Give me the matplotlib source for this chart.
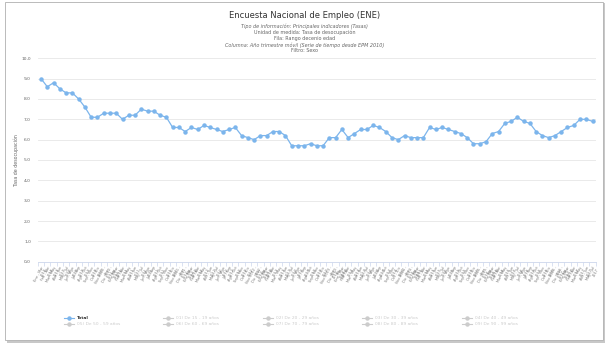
import matplotlib
matplotlib.use("Agg")
import matplotlib.pyplot as plt
from matplotlib.lines import Line2D
from matplotlib.patches import Rectangle

# DATA
title = "Encuesta Nacional de Empleo (ENE)"
subtitle = ["Tipo de información: Principales indicadores (Tasas)",
            "Unidad de medida: Tasa de desocupación",
            "Fila: Rango decenio edad",
            "Columna: Año trimestre móvil (Serie de tiempo desde EPM 2010)",
            "Filtro: Sexo"]
months = ["Ene", "Feb", "Mar", "Abr", "May", "Jun",
          "Jul", "Ago", "Sep", "Oct", "Nov", "Dic"]
first_year = 2010
total = [9.0, 8.6, 8.8, 8.5, 8.3, 8.3, 8.0, 7.6, 7.1, 7.1, 7.3, 7.3, 7.3, 7.0, 7.2, 7.2,
         7.5, 7.4, 7.4, 7.2, 7.1, 6.6, 6.6, 6.4, 6.6, 6.5, 6.7, 6.6, 6.5, 6.4, 6.5,
         6.6, 6.2, 6.1, 6.0, 6.2, 6.2, 6.4, 6.4, 6.2, 5.7, 5.7, 5.7, 5.8, 5.7, 5.7,
         6.1, 6.1, 6.5, 6.1, 6.3, 6.5, 6.5, 6.7, 6.6, 6.4, 6.1, 6.0, 6.2, 6.1, 6.1,
         6.1, 6.6, 6.5, 6.6, 6.5, 6.4, 6.3, 6.1, 5.8, 5.8, 5.9, 6.3, 6.4, 6.8, 6.9,
         7.1, 6.9, 6.8, 6.4, 6.2, 6.1, 6.2, 6.4, 6.6, 6.7, 7.0, 7.0, 6.9]
legend_items = ["Total",
                "01) De 15 - 19 años", "02) De 20 - 29 años", "03) De 30 - 39 años",
                "04) De 40 - 49 años", "05) De 50 - 59 años", "06) De 60 - 69 años",
                "07) De 70 - 79 años", "08) De 80 - 89 años", "09) De 90 - 99 años"]
yticks = [0, 1, 2, 3, 4, 5, 6, 7, 8, 9, 10]

# moving-quarter labels, e.g. "Ene - Mar 2010", "Nov 2010 - Ene 2011"
labels = []
for i in range(len(total)):
    m = i % 12
    y = first_year + i // 12
    if m + 2 < 12:
        labels.append(f"{months[m]} - {months[m + 2]}\n{y}")
    else:
        labels.append(f"{months[m]} {y} -\n{months[(m + 2) % 12]}\n{y + 1}")

W, H = 609, 352
fig = plt.figure(figsize=(W / 100, H / 100), dpi=100)

# card frame with a soft shadow
fig.patches.append(Rectangle((7 / W, 1 - 343 / H), 598 / W, 340 / H, transform=fig.transFigure,
                             facecolor="#c8c8c8", edgecolor="none", zorder=-3))
fig.patches.append(Rectangle((5 / W, 1 - 340 / H), 598 / W, 338 / H, transform=fig.transFigure,
                             facecolor="white", edgecolor="#b0b0b0", linewidth=0.6, zorder=-2))

ax = fig.add_axes([37.9 / W, 1 - 261.7 / H, 557.8 / W, 203.4 / H])
ax.set_facecolor("none")
x = list(range(len(total)))
ax.plot(x, total, color="#7cb5ec", linewidth=0.9, marker="o", markersize=2.2,
        markerfacecolor="#7cb5ec", markeredgecolor="#7cb5ec", zorder=3)

ax.set_xlim(-0.5, len(total) - 0.5)
ax.set_ylim(0, 10)
ax.set_yticks(yticks)
ax.set_yticklabels([f"{v:.1f}".replace(".", ",") for v in yticks], fontsize=3.2, color="#666666")
ax.grid(axis="y", color="#e6e6e6", linewidth=0.6)
ax.set_axisbelow(True)
ax.tick_params(axis="y", length=0, pad=5)

ax.set_xticks([i - 0.5 for i in range(len(total) + 1)], minor=False)
ax.set_xticklabels([])
ax.set_xticks(x, minor=True)
ax.set_xticklabels(labels, minor=True, fontsize=2.5, color="#777777",
                   rotation=62, ha="right", va="top", rotation_mode="anchor",
                   linespacing=1.05)
ax.tick_params(axis="x", which="major", length=3, color="#ccd6eb", width=0.5)
ax.tick_params(axis="x", which="minor", length=0, pad=3)

for s in ["top", "right", "left"]:
    ax.spines[s].set_visible(False)
ax.spines["bottom"].set_color("#ccd6eb")
ax.spines["bottom"].set_linewidth(0.6)

ax.set_ylabel("Tasa de desocupación", fontsize=3.4, color="#666666", labelpad=2)

# titles
fig.text(0.5, 1 - 16 / H, title, ha="center", va="center", fontsize=6, color="#333333")
for k, line in enumerate(subtitle):
    fig.text(0.5, 1 - (26.5 + 6.1 * k) / H, line, ha="center", va="center",
             fontsize=3.5, color="#666666", style="italic" if k in (0, 3) else "normal")

# legend (Total visible, age groups hidden/grey)
col_x = [69, 168, 268, 367, 467]
row_y = [318, 324]
for k, name in enumerate(legend_items):
    cx = col_x[k % 5]
    cy = 1 - row_y[k // 5] / H
    c = "#7cb5ec" if k == 0 else "#cccccc"
    tc = "#333333" if k == 0 else "#cccccc"
    fig.add_artist(Line2D([(cx - 5) / W, (cx + 5) / W], [cy, cy], color=c, linewidth=0.8,
                          transform=fig.transFigure))
    fig.add_artist(Line2D([cx / W], [cy], color=c, marker="o", markersize=2.2,
                          transform=fig.transFigure))
    fig.text((cx + 8) / W, cy, name, ha="left", va="center", fontsize=3.2, color=tc,
             fontweight="bold" if k == 0 else "normal")

fig.savefig("out.png", dpi=100)
